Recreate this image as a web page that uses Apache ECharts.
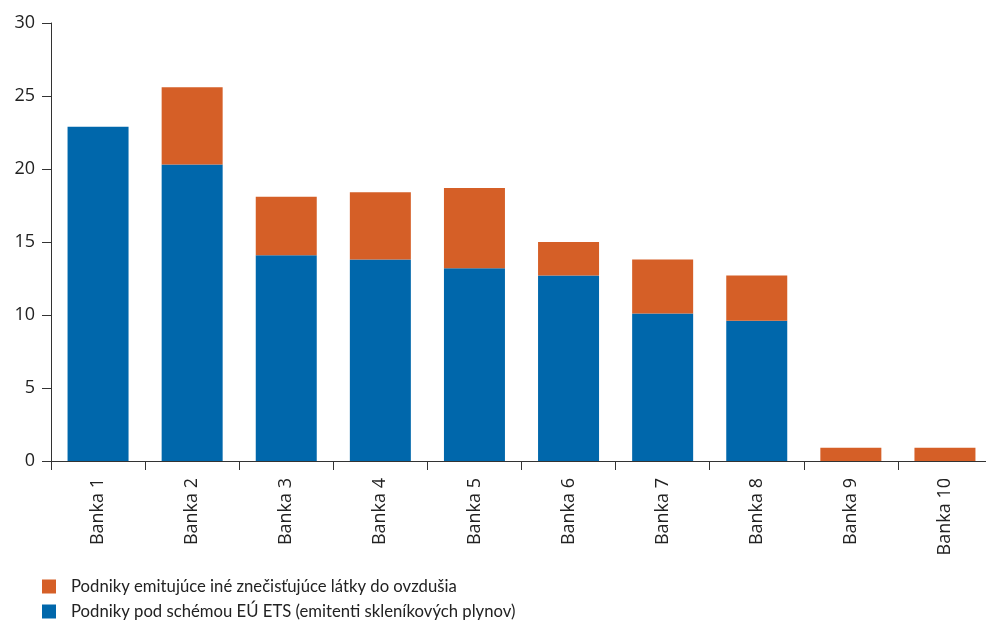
<!DOCTYPE html>
<html>
<head>
<meta charset="utf-8">
<style>
  html, body { margin: 0; padding: 0; background: #fff; overflow: hidden; }
  #chart { width: 996px; height: 621px; }
</style>
<script src="https://cdn.jsdelivr.net/npm/echarts@6/dist/echarts.min.js"></script>
</head>
<body>
<div id="chart"></div>
<script>
// Categories and series values (stacked bars)
const categories = ['Banka 1', 'Banka 2', 'Banka 3', 'Banka 4', 'Banka 5',
                    'Banka 6', 'Banka 7', 'Banka 8', 'Banka 9', 'Banka 10'];
const etsValues   = [22.9, 20.3, 14.1, 13.8, 13.2, 12.7, 10.1, 9.6, 0, 0];
const otherValues = [0, 5.3, 4.0, 4.6, 5.5, 2.3, 3.7, 3.1, 0.9, 0.9];
const seriesNames = [
  'Podniky pod schémou EÚ ETS (emitenti skleníkových plynov)',
  'Podniky emitujúce iné znečisťujúce látky do ovzdušia'
];

const BLUE = '#0067ab';
const ORANGE = '#d55f27';
const AXIS = '#333333';

// one legend per row, stacked at the bottom-left
function legendRow(name, top) {
  return {
    orient: 'vertical',
    left: 37,
    top: top,
    itemWidth: 14,
    itemHeight: 14,
    icon: 'rect',
    data: [name],
    textStyle: { fontFamily: 'Lato', fontSize: 16.7, color: '#222', padding: [0, 0, 0, 10] }
  };
}

const chart = echarts.init(document.getElementById('chart'), null, { renderer: 'canvas' });
chart.setOption({
  animation: false,
  grid: { left: 51, top: 23, width: 941, height: 438, containLabel: false },
  legend: [
    legendRow(seriesNames[1], 573),
    legendRow(seriesNames[0], 598)
  ],
  xAxis: {
    type: 'category',
    data: categories,
    boundaryGap: true,
    axisLine: { show: true, lineStyle: { color: AXIS, width: 1 } },
    axisTick: { show: true, length: 9, lineStyle: { color: AXIS } },
    axisLabel: {
      rotate: 90,
      margin: 17,
      fontFamily: 'Open Sans',
      fontSize: 18,
      color: '#222'
    },
    splitLine: { show: false }
  },
  yAxis: {
    type: 'value',
    min: 0,
    max: 30,
    interval: 5,
    axisLine: { show: true, lineStyle: { color: AXIS, width: 1 } },
    axisTick: { show: true, length: 9, lineStyle: { color: AXIS } },
    axisLabel: { margin: 16, fontFamily: 'Open Sans', fontSize: 18, color: '#222' },
    splitLine: { show: false }
  },
  series: [
    {
      name: seriesNames[0],
      type: 'bar',
      stack: 'total',
      barWidth: 61,
      itemStyle: { color: BLUE },
      data: etsValues
    },
    {
      name: seriesNames[1],
      type: 'bar',
      stack: 'total',
      barWidth: 61,
      itemStyle: { color: ORANGE },
      data: otherValues
    }
  ]
});
</script>
</body>
</html>
